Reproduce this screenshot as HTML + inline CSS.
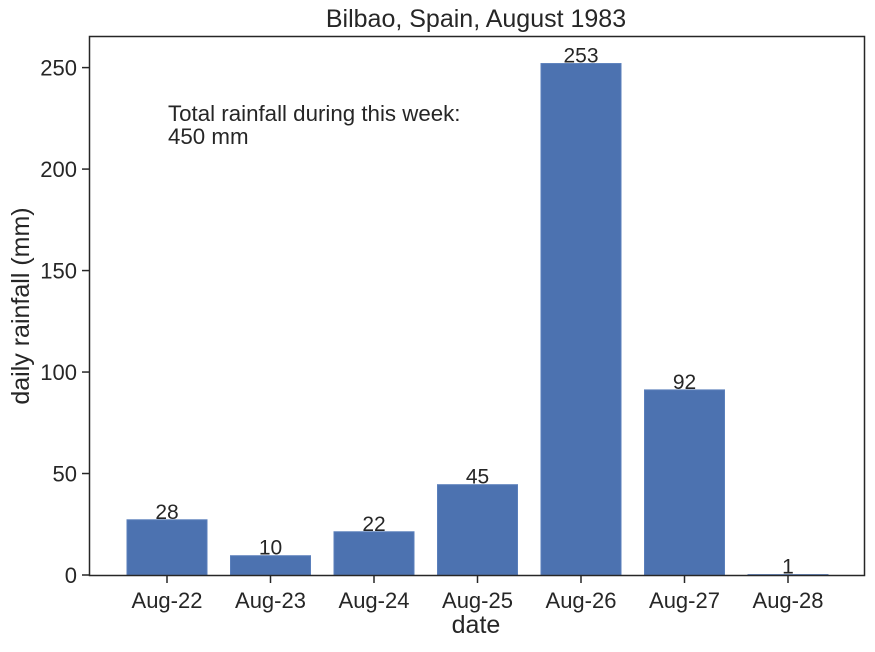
<!DOCTYPE html>
<html><head><meta charset="utf-8"><style>
body{margin:0;background:#fff;}
svg text{font-family:"Liberation Sans","DejaVu Sans",sans-serif;fill:#262626;}
</style></head><body>
<svg id="chart" width="875" height="647" xmlns="http://www.w3.org/2000/svg">
<rect width="875" height="647" fill="#fff"/>
<text x="476" y="27" font-size="25" text-anchor="middle">Bilbao, Spain, August 1983</text>
<text x="476" y="633" font-size="25" text-anchor="middle">date</text>
<text transform="translate(29,306) rotate(-90)" font-size="25" text-anchor="middle">daily rainfall (mm)</text>
<text x="168" y="121" font-size="22.3">Total rainfall during this week:</text>
<text x="168" y="144" font-size="22.3">450 mm</text>
<g id="marks"></g>
<rect x="89.5" y="36.5" width="775" height="539" fill="none" stroke="#262626" stroke-width="1.5"/>
</svg>
<script>
const categories=["Aug-22","Aug-23","Aug-24","Aug-25","Aug-26","Aug-27","Aug-28"];
const values=[27.2,9.5,21.3,44.5,252,91.2,0.2];
const valueLabels=["28","10","22","45","253","92","1"];
const yTicks=[0,50,100,150,200,250];
const NS="http://www.w3.org/2000/svg";
const g=document.getElementById("marks");
function y(v){return 575-v*(575-67.6)/250;}
function x(i){return 167+i*103.5;}
function mk(t,a){const e=document.createElementNS(NS,t);for(const k in a)e.setAttribute(k,a[k]);g.appendChild(e);return e;}
yTicks.forEach(v=>{
  const t=mk("line",{x1:82,x2:89,y1:y(v),y2:y(v),stroke:"#262626","stroke-width":1.5});
  
  
  const l=mk("text",{x:77,y:y(v)+8,"font-size":22,"text-anchor":"end"});
  l.textContent=v;
  
  
});
categories.forEach((c,i)=>{
  const b=mk("rect",{x:x(i)-40,y:y(values[i]),width:80,height:575-y(values[i]),fill:"#4c72b0",stroke:"#5a7fbb","stroke-width":1});
  
  
  const v=mk("text",{x:x(i),y:y(values[i])-1,"font-size":21,"text-anchor":"middle"});
  v.textContent=valueLabels[i];
  
  
  const t=mk("line",{x1:x(i),x2:x(i),y1:576,y2:583,stroke:"#262626","stroke-width":1.5});
  
  
  const l=mk("text",{x:x(i),y:608,"font-size":22,"text-anchor":"middle"});
  l.textContent=c;
  
  
});
</script>
</body></html>
